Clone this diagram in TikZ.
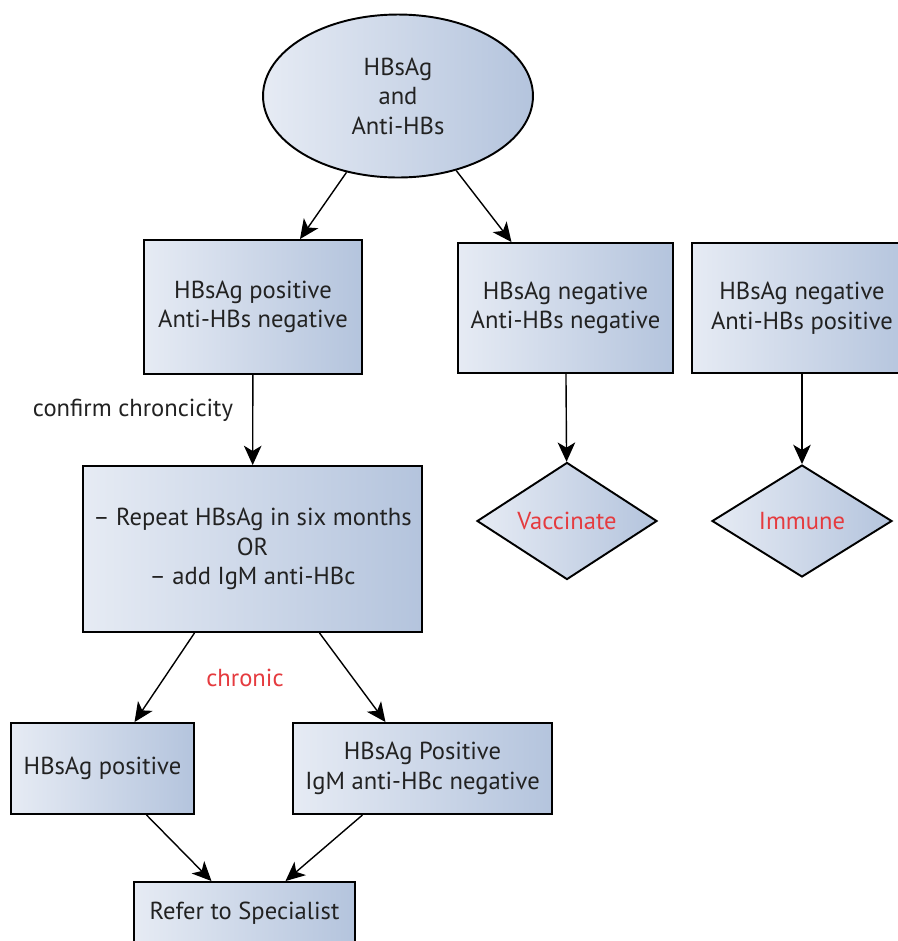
\documentclass[tikz,border=0pt]{standalone}
\usepackage{fontspec}
\setmainfont{PT Sans}
\usetikzlibrary{shapes.geometric,arrows.meta,calc}

\definecolor{fillleft}{HTML}{E6EBF4}
\definecolor{fillright}{HTML}{B4C4DD}
\definecolor{textgray}{HTML}{222222}
\definecolor{markred}{HTML}{E53B3F}

\tikzset{
    shade box/.style={draw=black, line width=1.1pt, left color=fillleft, right color=fillright,
        text=textgray, align=center, inner sep=0pt, font=\fontsize{14}{16.8}\selectfont},
    testbox/.style={shade box, rectangle},
    startnode/.style={shade box, ellipse},
    endnode/.style={shade box, diamond, text=markred},
    flow/.style={-{Stealth[length=11pt,width=10pt,inset=3pt]}, line width=0.8pt},
    note/.style={text=textgray, font=\fontsize{14}{16.8}\selectfont}
}

\begin{document}
\begin{tikzpicture}[x=0.02cm,y=-0.02cm]
    \useasboundingbox (0,0) rectangle (898,941);
    \node[startnode, minimum width=5.4cm, minimum height=3.26cm] (test) at (398,96) {HBsAg\\and\\Anti-HBs};
    \node[testbox, minimum width=4.36cm, minimum height=2.68cm] (posneg) at (253,307) {HBsAg positive\\Anti-HBs negative};
    \node[testbox, minimum width=4.3cm, minimum height=2.6cm] (negneg) at (565.5,308) {HBsAg negative\\Anti-HBs negative};
    \node[testbox, minimum width=4.4cm, minimum height=2.6cm] (negpos) at (802,308) {HBsAg negative\\Anti-HBs positive};
    \node[endnode, minimum width=3.6cm, minimum height=2.24cm] (vacc) at (567,521) {Vaccinate};
    \node[endnode, minimum width=3.6cm, minimum height=2.24cm] (immune) at (802,521) {Immune};
    \node[testbox, minimum width=6.78cm, minimum height=3.32cm] (repeat) at (252.5,549) {-- Repeat HBsAg in six months\\OR\\-- add IgM anti-HBc};
    \node[testbox, minimum width=3.66cm, minimum height=1.82cm] (hbpos) at (102.5,768.5) {HBsAg positive};
    \node[testbox, minimum width=5.18cm, minimum height=1.82cm] (hbigm) at (422.5,768.5) {HBsAg Positive\\IgM anti-HBc negative};
    \node[testbox, minimum width=4.42cm, minimum height=1.24cm] (refer) at (244.5,913) {Refer to Specialist};
    \node[note] (confirm) at (133,410) {confirm chroncicity};
    \node[note, text=markred] (chronic) at (245,678) {chronic};

    \draw[flow] (test.236) -- ($(posneg.north)+(47,0)$);
    \draw[flow] (test.308) -- ($(negneg.north)+(-54,0)$);
    \draw[flow] (posneg) -- (repeat);
    \draw[flow] (negneg) -- (vacc);
    \draw[flow] (negpos) -- (immune);
    \draw[flow] ($(repeat.south)+(-58,0)$) -- ($(hbpos.north)+(32,0)$);
    \draw[flow] ($(repeat.south)+(67,0)$) -- ($(hbigm.north)+(-37,0)$);
    \draw[flow] ($(hbpos.south)+(44,0)$) -- ($(refer.north)+(-33,0)$);
    \draw[flow] ($(hbigm.south)+(-60,0)$) -- ($(refer.north)+(41,0)$);
\end{tikzpicture}
\end{document}
